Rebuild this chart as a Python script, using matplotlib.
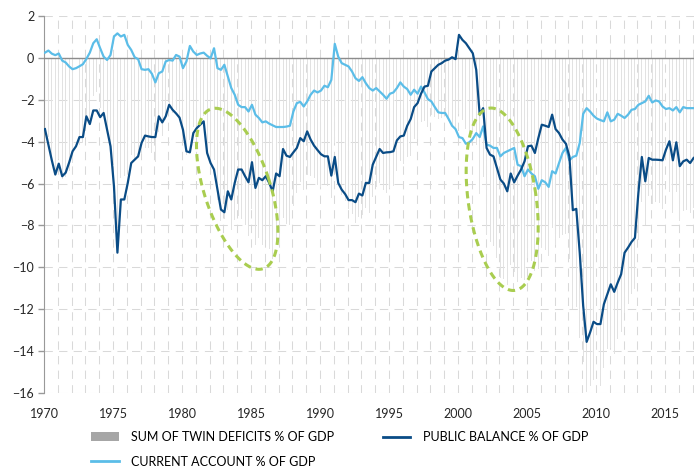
import numpy as np
import matplotlib
matplotlib.use("Agg")
import matplotlib.pyplot as plt
from matplotlib.patches import Patch
from matplotlib.lines import Line2D

# quarterly figures, 1970Q1 .. 2017Q1, % of GDP
public_balance = [
    -3.40, -4.15, -4.90, -5.57, -5.05, -5.65, -5.48, -5.00, -4.46, -4.22,
    -3.78, -3.78, -2.79, -3.16, -2.51, -2.51, -2.83, -2.63, -3.43, -4.22,
    -6.13, -9.30, -6.76, -6.76, -5.97, -5.02, -4.86, -4.70, -4.06, -3.71,
    -3.75, -3.78, -3.78, -2.79, -3.08, -2.79, -2.24, -2.48, -2.65, -2.85,
    -3.43, -4.46, -4.51, -3.59, -3.35, -3.19, -3.03, -4.54, -5.02, -5.33,
    -6.29, -7.24, -7.37, -6.37, -6.76, -5.97, -5.33, -5.33, -5.65, -5.94,
    -4.98, -6.21, -5.73, -5.84, -5.65, -5.97, -6.37, -5.52, -5.65, -4.35,
    -4.67, -4.73, -4.51, -4.30, -3.83, -3.98, -3.51, -3.90, -4.19, -4.40,
    -4.60, -4.70, -4.70, -5.62, -4.73, -5.97, -6.29, -6.50, -6.79, -6.79,
    -6.89, -6.48, -6.57, -5.97, -5.97, -5.10, -4.73, -4.35, -4.54, -4.51,
    -4.50, -4.46, -3.94, -3.75, -3.71, -3.24, -2.92, -2.35, -2.16, -1.71,
    -1.37, -1.33, -0.65, -0.49, -0.33, -0.25, -0.13, -0.08, 0.03, -0.06,
    1.10, 0.86, 0.70, 0.46, 0.22, -0.57, -2.71, -2.40, -4.30, -4.62,
    -4.70, -5.25, -5.81, -6.00, -6.37, -5.52, -5.94, -5.62, -5.33, -4.94,
    -4.22, -4.19, -4.54, -3.83, -3.19, -3.24, -3.30, -2.71, -3.40, -3.59,
    -3.90, -4.10, -4.70, -7.27, -7.21, -9.30, -11.84, -13.56, -13.11, -12.60,
    -12.71, -12.71, -11.76, -11.29, -10.81, -11.17, -10.73, -10.33, -9.30, -9.06,
    -8.79, -8.59, -6.44, -4.73, -5.89, -4.78, -4.86, -4.86, -4.87, -4.89,
    -4.38, -3.98, -4.89, -4.03, -5.17, -4.94, -4.86, -5.02, -4.78,
]

current_account = [
    0.25, 0.35, 0.20, 0.13, 0.21, -0.13, -0.22, -0.41, -0.54, -0.49,
    -0.40, -0.30, -0.05, 0.25, 0.70, 0.89, 0.46, 0.06, -0.10, 0.14,
    1.02, 1.17, 1.02, 1.10, 0.62, 0.38, 0.03, -0.06, -0.54, -0.57,
    -0.54, -0.76, -1.17, -0.73, -0.65, -0.17, -0.10, -0.13, 0.14, 0.06,
    -0.49, -0.17, 0.57, 0.30, 0.14, 0.21, 0.25, 0.10, -0.02, 0.46,
    -0.49, -0.57, -0.33, -0.89, -1.44, -1.76, -2.24, -2.35, -2.35, -2.56,
    -2.24, -2.71, -2.87, -3.08, -3.03, -3.14, -3.22, -3.30, -3.30, -3.30,
    -3.28, -3.24, -2.56, -2.16, -2.10, -2.32, -2.08, -1.76, -1.56, -1.65,
    -1.56, -1.33, -1.40, -1.05, 0.67, 0.06, -0.25, -0.33, -0.41, -0.65,
    -0.97, -1.10, -0.92, -1.21, -1.44, -1.56, -1.44, -1.60, -1.76, -1.95,
    -1.71, -1.65, -1.44, -1.17, -1.37, -1.49, -1.76, -1.52, -1.71, -1.37,
    -1.65, -1.97, -2.08, -2.35, -2.60, -2.63, -2.63, -2.92, -3.24, -3.40,
    -3.78, -3.83, -4.10, -4.03, -3.87, -3.59, -3.78, -3.27, -4.14, -4.19,
    -4.30, -4.30, -4.70, -4.54, -4.46, -4.38, -4.30, -5.10, -5.17, -5.65,
    -5.33, -5.52, -5.65, -6.25, -5.84, -5.94, -6.16, -5.41, -5.52, -5.02,
    -4.54, -4.30, -4.89, -4.73, -4.67, -4.06, -2.67, -2.40, -2.56, -2.76,
    -2.90, -2.97, -3.03, -2.60, -3.03, -2.95, -2.67, -2.76, -2.87, -2.71,
    -2.48, -2.44, -2.24, -2.16, -2.08, -1.81, -2.13, -2.03, -2.08, -2.32,
    -2.44, -2.40, -2.51, -2.35, -2.60, -2.35, -2.40, -2.40, -2.40,
]

first_year = 1970
year_labels = [1970, 1975, 1980, 1985, 1990, 1995, 2000, 2005, 2010, 2015]
value_ticks = [-16, -14, -12, -10, -8, -6, -4, -2, 0, 2]

labels = ["SUM OF TWIN DEFICITS % OF GDP",
          "CURRENT ACCOUNT % OF GDP",
          "PUBLIC BALANCE % OF GDP"]

DARK_BLUE = "#0a4c86"
LIGHT_BLUE = "#5bbde8"
GREEN = "#a9cd50"
GRID = "#d9d9d9"

plt.rcParams["font.family"] = ["Lato", "DejaVu Sans"]


def draw_ellipse(ax, cx, cy, a_px, b_px, tilt):
    """dashed ellipse, sizes given in pixels so that the tilt is not distorted"""
    x0, x1 = ax.get_xlim()
    y0, y1 = ax.get_ylim()
    sx = ax.bbox.width / (x1 - x0)
    sy = ax.bbox.height / (y1 - y0)
    t = np.linspace(0, 2 * np.pi, 300)
    th = np.radians(tilt)
    u = b_px * np.cos(t)
    v = a_px * np.sin(t)
    dx = u * np.cos(th) - v * np.sin(th)
    dy = u * np.sin(th) + v * np.cos(th)
    ax.plot(cx + dx / sx, cy + dy / sy, color=GREEN, lw=2.2,
            linestyle=(0, (2.4, 1.6)), zorder=5)


pb = np.array(public_balance)
ca = np.array(current_account)
twin = pb + ca
t = first_year + 0.07 + np.arange(len(pb)) / 4

fig = plt.figure(figsize=(6.94, 4.68), dpi=100)
ax = fig.add_axes([44 / 694, 1 - 393 / 468, 650 / 694, 377 / 468])

ax.bar(t, twin, width=0.07, color="#e2e2e2", zorder=1, linewidth=0)
ax.plot(t, ca, color=LIGHT_BLUE, lw=1.6, zorder=4)
ax.plot(t, pb, color=DARK_BLUE, lw=1.6, zorder=4)
ax.axhline(0, color="#8c8c8c", lw=1.0, zorder=3)

ax.set_xlim(first_year, 2017.1)
ax.set_ylim(-16, 2)

ax.set_xticks(year_labels)
ax.set_xticks(range(first_year, 2018), minor=True)
ax.set_yticks(value_ticks)
ax.tick_params(axis="x", which="both", length=0, pad=11, labelsize=9, labelcolor="#262626")
ax.tick_params(axis="y", length=4, width=1, color="#999999", pad=3, labelsize=9, labelcolor="#262626")

ax.grid(axis="x", which="both", color=GRID, lw=0.75, linestyle=(0, (8, 6)), zorder=0)
ax.grid(axis="y", which="major", color=GRID, lw=0.75, linestyle=(0, (8, 6)), zorder=0)
ax.set_axisbelow(True)

for s in ["top", "right", "bottom"]:
    ax.spines[s].set_visible(False)
ax.spines["left"].set_color("#999999")

draw_ellipse(ax, 1984.0, -6.25, 84, 33, 18)
draw_ellipse(ax, 2003.2, -6.75, 92, 34, 8)

handles = [Patch(facecolor="#a6a6a6", edgecolor="none"),
           Line2D([], [], color=LIGHT_BLUE, lw=2),
           Line2D([], [], color=DARK_BLUE, lw=2)]
fig.legend(handles, labels, loc="upper left", bbox_to_anchor=(91 / 694, 1 - 431 / 468),
           ncol=2, frameon=False, fontsize=9, handlelength=2.2, handletextpad=1.0,
           columnspacing=3.9, labelspacing=1.0, borderpad=0, borderaxespad=0)

fig.savefig("out.png", dpi=100)
